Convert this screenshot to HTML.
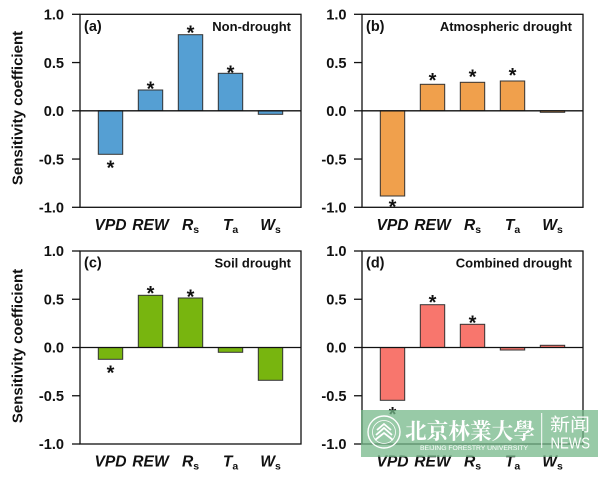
<!DOCTYPE html>
<html><head><meta charset="utf-8"><style>
html,body{margin:0;padding:0;background:#fff;}
svg{display:block;}
text{font-family:"Liberation Sans",Arial,sans-serif;}
.tl{font-size:14.6px;font-weight:bold;text-anchor:end;fill:#111;}
.xl{font-size:15.6px;font-weight:bold;font-style:italic;text-anchor:middle;fill:#111;}
.sub{font-size:10.5px;font-style:normal;}
.ann{font-size:13px;font-weight:bold;text-anchor:end;fill:#111;}
.pl{font-size:14.5px;font-weight:bold;fill:#111;}
.st{font-size:20px;font-weight:bold;text-anchor:middle;fill:#111;}
.yt{font-size:15px;font-weight:bold;text-anchor:middle;fill:#111;}
.ax{fill:none;stroke:#111;stroke-width:1.3;}
.bar{stroke:#333;stroke-width:1;}
</style></head><body>
<svg width="600" height="479" viewBox="0 0 600 479" xmlns="http://www.w3.org/2000/svg">
<rect width="600" height="479" fill="#fff"/>

<!-- Y titles -->
<text class="yt" transform="translate(22.5,108) rotate(-90)">Sensitivity coefficient</text>
<text class="yt" transform="translate(22.5,346) rotate(-90)">Sensitivity coefficient</text>

<!-- ===== Panel a ===== -->
<g fill="#559fd3">
<rect class="bar" x="98.3" y="110.8" width="24.4" height="43.5"/>
<rect class="bar" x="138.3" y="90" width="24.4" height="20.8"/>
<rect class="bar" x="178.3" y="34.7" width="24.4" height="76.1"/>
<rect class="bar" x="218.3" y="73.3" width="24.4" height="37.5"/>
<rect class="bar" x="258.3" y="110.8" width="24.4" height="3.5"/>
</g>
<line x1="80" y1="110.8" x2="301" y2="110.8" stroke="#111" stroke-width="1.3"/>
<rect class="ax" x="80" y="14.3" width="221" height="193"/>
<g stroke="#111" stroke-width="1.3">
<line x1="72" y1="14.3" x2="80" y2="14.3"/><line x1="72" y1="62.55" x2="80" y2="62.55"/>
<line x1="72" y1="110.8" x2="80" y2="110.8"/><line x1="72" y1="159.05" x2="80" y2="159.05"/>
<line x1="72" y1="207.3" x2="80" y2="207.3"/>
</g>
<text class="tl" x="64" y="19.5">1.0</text>
<text class="tl" x="64" y="67.75">0.5</text>
<text class="tl" x="64" y="116">0.0</text>
<text class="tl" x="64" y="164.25">-0.5</text>
<text class="tl" x="64" y="212.5">-1.0</text>
<text class="pl" x="84" y="31">(a)</text>
<text class="ann" x="291" y="31">Non-drought</text>
<text class="st" x="110.5" y="174.7">*</text>
<text class="st" x="150.5" y="95.7">*</text>
<text class="st" x="190.5" y="39.3">*</text>
<text class="st" x="230.5" y="79.3">*</text>
<text class="xl" x="110.5" y="230">VPD</text>
<text class="xl" x="150.5" y="230">REW</text>
<text class="xl" x="190.5" y="230">R<tspan class="sub" dy="3">s</tspan></text>
<text class="xl" x="230.5" y="230">T<tspan class="sub" dy="3">a</tspan></text>
<text class="xl" x="270.5" y="230">W<tspan class="sub" dy="3">s</tspan></text>

<!-- ===== Panel b ===== -->
<g fill="#f0a04c">
<rect class="bar" x="380.3" y="110.8" width="24.4" height="85.2"/>
<rect class="bar" x="420.3" y="84.3" width="24.4" height="26.5"/>
<rect class="bar" x="460.3" y="82.3" width="24.4" height="28.5"/>
<rect class="bar" x="500.3" y="81" width="24.4" height="29.8"/>
<rect class="bar" x="540.3" y="110.8" width="24.4" height="1.5"/>
</g>
<line x1="362" y1="110.8" x2="583" y2="110.8" stroke="#111" stroke-width="1.3"/>
<rect class="ax" x="362" y="14.3" width="221" height="193"/>
<g stroke="#111" stroke-width="1.3">
<line x1="354" y1="14.3" x2="362" y2="14.3"/><line x1="354" y1="62.55" x2="362" y2="62.55"/>
<line x1="354" y1="110.8" x2="362" y2="110.8"/><line x1="354" y1="159.05" x2="362" y2="159.05"/>
<line x1="354" y1="207.3" x2="362" y2="207.3"/>
</g>
<text class="tl" x="346.5" y="19.5">1.0</text>
<text class="tl" x="346.5" y="67.75">0.5</text>
<text class="tl" x="346.5" y="116">0.0</text>
<text class="tl" x="346.5" y="164.25">-0.5</text>
<text class="tl" x="346.5" y="212.5">-1.0</text>
<text class="pl" x="366" y="31">(b)</text>
<text class="ann" x="572" y="31">Atmospheric drought</text>
<text class="st" x="392.5" y="213.7">*</text>
<text class="st" x="432.5" y="86.8">*</text>
<text class="st" x="472.5" y="83.3">*</text>
<text class="st" x="512.5" y="81.8">*</text>
<text class="xl" x="392.5" y="230">VPD</text>
<text class="xl" x="432.5" y="230">REW</text>
<text class="xl" x="472.5" y="230">R<tspan class="sub" dy="3">s</tspan></text>
<text class="xl" x="512.5" y="230">T<tspan class="sub" dy="3">a</tspan></text>
<text class="xl" x="552.5" y="230">W<tspan class="sub" dy="3">s</tspan></text>

<!-- ===== Panel c ===== -->
<g fill="#78b50f">
<rect class="bar" x="98.3" y="347.5" width="24.4" height="11.8"/>
<rect class="bar" x="138.3" y="295.3" width="24.4" height="52.2"/>
<rect class="bar" x="178.3" y="298" width="24.4" height="49.5"/>
<rect class="bar" x="218.3" y="347.5" width="24.4" height="4.8"/>
<rect class="bar" x="258.3" y="347.5" width="24.4" height="32.8"/>
</g>
<line x1="80" y1="347.5" x2="301" y2="347.5" stroke="#111" stroke-width="1.3"/>
<rect class="ax" x="80" y="251" width="221" height="193"/>
<g stroke="#111" stroke-width="1.3">
<line x1="72" y1="251" x2="80" y2="251"/><line x1="72" y1="299.25" x2="80" y2="299.25"/>
<line x1="72" y1="347.5" x2="80" y2="347.5"/><line x1="72" y1="395.75" x2="80" y2="395.75"/>
<line x1="72" y1="444" x2="80" y2="444"/>
</g>
<text class="tl" x="64" y="256.2">1.0</text>
<text class="tl" x="64" y="304.45">0.5</text>
<text class="tl" x="64" y="352.7">0.0</text>
<text class="tl" x="64" y="400.95">-0.5</text>
<text class="tl" x="64" y="449.2">-1.0</text>
<text class="pl" x="84" y="267.5">(c)</text>
<text class="ann" x="291" y="267.5">Soil drought</text>
<text class="st" x="110.5" y="379.3">*</text>
<text class="st" x="150.5" y="300">*</text>
<text class="st" x="190.5" y="303.3">*</text>
<text class="xl" x="110.5" y="466.7">VPD</text>
<text class="xl" x="150.5" y="466.7">REW</text>
<text class="xl" x="190.5" y="466.7">R<tspan class="sub" dy="3">s</tspan></text>
<text class="xl" x="230.5" y="466.7">T<tspan class="sub" dy="3">a</tspan></text>
<text class="xl" x="270.5" y="466.7">W<tspan class="sub" dy="3">s</tspan></text>

<!-- ===== Panel d ===== -->
<g fill="#f8766d">
<rect class="bar" x="380.3" y="347.5" width="24.4" height="52.8"/>
<rect class="bar" x="420.3" y="304.7" width="24.4" height="42.8"/>
<rect class="bar" x="460.3" y="324.3" width="24.4" height="23.2"/>
<rect class="bar" x="500.3" y="347.5" width="24.4" height="2.5"/>
<rect class="bar" x="540.3" y="345.3" width="24.4" height="2.2"/>
</g>
<line x1="362" y1="347.5" x2="583" y2="347.5" stroke="#111" stroke-width="1.3"/>
<rect class="ax" x="362" y="251" width="221" height="193"/>
<g stroke="#111" stroke-width="1.3">
<line x1="354" y1="251" x2="362" y2="251"/><line x1="354" y1="299.25" x2="362" y2="299.25"/>
<line x1="354" y1="347.5" x2="362" y2="347.5"/><line x1="354" y1="395.75" x2="362" y2="395.75"/>
<line x1="354" y1="444" x2="362" y2="444"/>
</g>
<text class="tl" x="346.5" y="256.2">1.0</text>
<text class="tl" x="346.5" y="304.45">0.5</text>
<text class="tl" x="346.5" y="352.7">0.0</text>
<text class="tl" x="346.5" y="400.95">-0.5</text>
<text class="tl" x="346.5" y="449.2">-1.0</text>
<text class="pl" x="366" y="267.5">(d)</text>
<text class="ann" x="572" y="267.5">Combined drought</text>
<text class="st" x="392.5" y="421">*</text>
<text class="st" x="432.5" y="309">*</text>
<text class="st" x="472.5" y="329.5">*</text>
<text class="xl" x="392.5" y="466.7">VPD</text>
<text class="xl" x="432.5" y="466.7">REW</text>
<text class="xl" x="472.5" y="466.7">R<tspan class="sub" dy="3">s</tspan></text>
<text class="xl" x="512.5" y="466.7">T<tspan class="sub" dy="3">a</tspan></text>
<text class="xl" x="552.5" y="466.7">W<tspan class="sub" dy="3">s</tspan></text>

<!-- ===== Watermark ===== -->
<rect x="361" y="410" width="237" height="47" fill="rgb(118,184,138)" fill-opacity="0.75"/>
<g fill="none" stroke="#fff">
<circle cx="384" cy="432" r="16" stroke-width="1.4"/>
<circle cx="384" cy="432" r="11.5" stroke-width="0.8"/>
<polyline points="377,430 384,424 391,430" stroke-width="1.8"/>
<polyline points="376,435 384,428 392,435" stroke-width="1.8"/>
<polyline points="375,440 384,433 393,440" stroke-width="1.8"/>
</g>
<text x="405" y="439" font-size="22" font-weight="bold" fill="#fff" style="font-family:'Noto Serif CJK SC','Noto Sans CJK SC',serif;" textLength="130" lengthAdjust="spacingAndGlyphs">北京林業大學</text>
<text x="420" y="450" font-size="6" fill="#fff" textLength="108" lengthAdjust="spacingAndGlyphs">BEIJING FORESTRY UNIVERSITY</text>
<line x1="541.7" y1="413" x2="541.7" y2="448" stroke="#fff" stroke-width="1"/>
<text x="550" y="431" font-size="18" fill="#fff" style="font-family:'Noto Sans CJK SC',sans-serif;" textLength="40" lengthAdjust="spacingAndGlyphs">新闻</text>
<text x="550.5" y="448.5" font-size="15.5" fill="#fff" textLength="39.5" lengthAdjust="spacingAndGlyphs">NEWS</text>
</svg>
</body></html>
